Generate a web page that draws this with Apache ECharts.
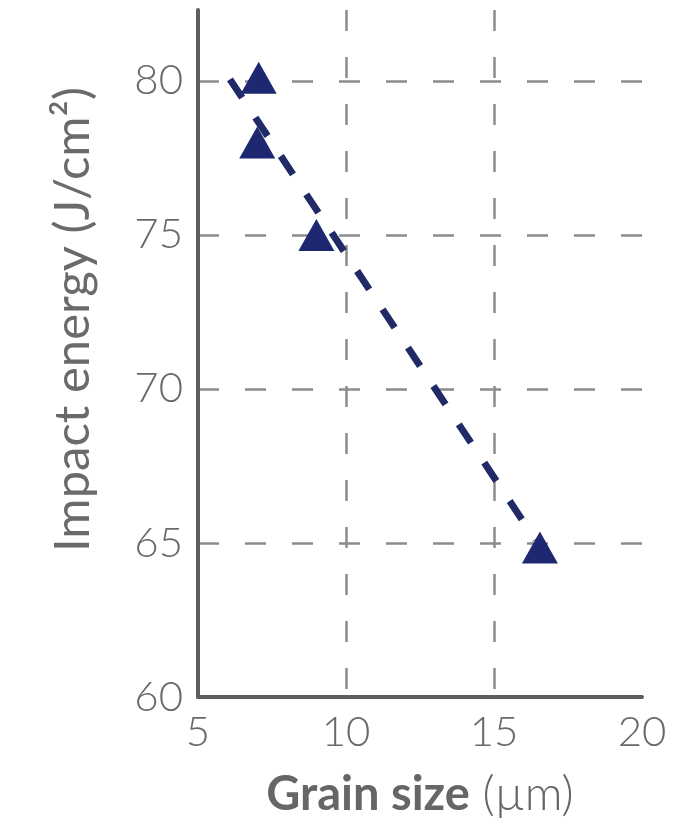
<!DOCTYPE html>
<html>
<head>
<meta charset="utf-8">
<script src="https://cdn.jsdelivr.net/npm/echarts@6/dist/echarts.min.js"></script>
<style>
  html, body { margin: 0; padding: 0; background: #fff; }
  #main { width: 677px; height: 830px; }
</style>
</head>
<body>
<div id="main"></div>
<script>
// measured points (grain size um, impact energy J/cm2)
var grainSize = [7.05, 7.0, 9.0, 16.55];
var impactEnergy = [80.1, 78.0, 75.0, 64.85];
// dashed trend line ends
var trendX = [6.08, 16.4];
var trendY = [80.05, 65.1];
var xTicks = [5, 10, 15, 20];
var yTicks = [60, 65, 70, 75, 80];

var chart = echarts.init(document.getElementById('main'));

var points = grainSize.map(function (x, i) { return [x, impactEnergy[i]]; });
var trend = trendX.map(function (x, i) { return [x, trendY[i]]; });

var gridLine = { show: true, showMinLine: false, showMaxLine: false,
  lineStyle: { color: '#8c8c8c', width: 2.5, type: [21, 26] } };

var option = {
  animation: false,
  grid: { left: 198, right: 35, top: 10, bottom: 133 },
  xAxis: {
    type: 'value',
    min: xTicks[0],
    max: xTicks[xTicks.length - 1],
    interval: 5,
    name: '{b|Grain size}{n| (µm)}',
    nameLocation: 'middle',
    nameGap: 74,
    nameTextStyle: {
      rich: {
        b: { fontFamily: 'Lato', fontSize: 47, fontWeight: 'bold', color: '#666' },
        n: { fontFamily: 'Lato', fontSize: 47, fontWeight: 300, color: '#666' }
      }
    },
    axisLine: { lineStyle: { color: '#5e5e5e', width: 4 } },
    axisTick: { show: false },
    axisLabel: { fontFamily: 'Lato', fontSize: 42, fontWeight: 300, color: '#6a6a6a', margin: 14 },
    splitLine: gridLine
  },
  yAxis: {
    type: 'value',
    min: yTicks[0],
    max: 82.3,
    interval: 5,
    name: 'Impact energy (J/cm²)',
    nameLocation: 'middle',
    nameGap: 100,
    nameRotate: 90,
    nameTextStyle: { fontFamily: 'Lato', fontSize: 49, color: '#6a6a6a', padding: [0, 0, 0, 68] },
    axisLine: { show: true, lineStyle: { color: '#5e5e5e', width: 4 } },
    axisTick: { show: false },
    axisLabel: { fontFamily: 'Lato', fontSize: 42, fontWeight: 300, color: '#6a6a6a', margin: 15, showMaxLabel: false },
    splitLine: gridLine
  },
  series: [
    {
      type: 'line',
      data: trend,
      symbol: 'none',
      lineStyle: { color: '#1f2a66', width: 7, type: [22, 24] },
      z: 3
    },
    {
      type: 'scatter',
      data: points,
      symbol: 'triangle',
      symbolSize: [36, 32],
      itemStyle: { color: '#1d2870', opacity: 1 },
      z: 4
    }
  ]
};

chart.setOption(option);
</script>
</body>
</html>
